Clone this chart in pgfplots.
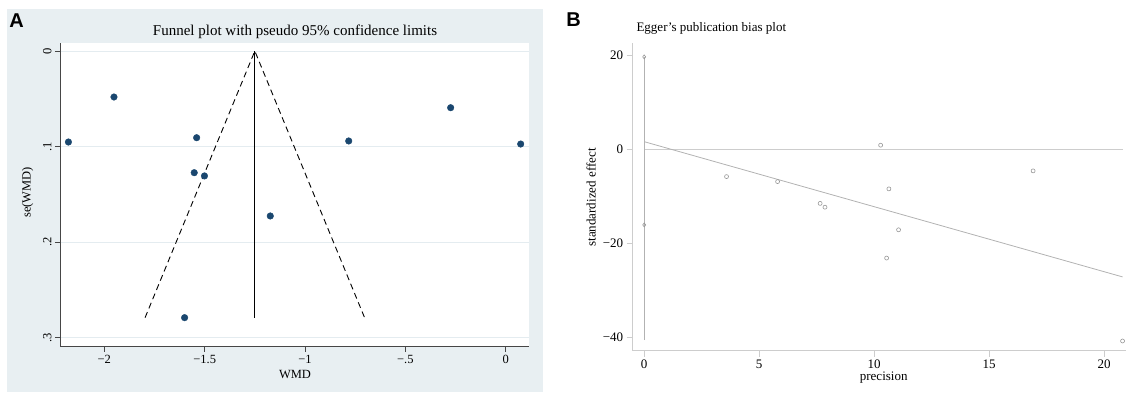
\documentclass[border=0pt]{standalone}
\usepackage{pgfplots}
\pgfplotsset{compat=1.18}
\usepackage{pgfplotstable}
\usepackage{fontspec}
\setmainfont{Liberation Serif}
\newfontfamily\sansb{Liberation Sans}
\definecolor{bgA}{RGB}{232,239,242}
\definecolor{gridA}{RGB}{228,236,240}
\definecolor{navyA}{RGB}{26,71,111}
\definecolor{axA}{RGB}{70,70,70}
\definecolor{axB}{RGB}{205,205,205}
\definecolor{lnB}{RGB}{178,178,178}
\definecolor{mkB}{RGB}{150,150,150}

\pgfplotstableread{
wmd se
-2.179 0.0952
-1.952 0.0481
-1.540 0.0907
-1.552 0.1273
-1.501 0.1307
-0.782 0.0941
-1.173 0.1726
-1.600 0.2790
-0.274 0.0593
0.075 0.0973
}\funnel

\pgfplotstableread{
prec std
3.58 -5.81
5.80 -6.87
7.65 -11.5
7.86 -12.3
10.28 0.85
10.64 -8.42
11.06 -17.1
10.54 -23.1
16.91 -4.6
20.80 -40.7
}\egger

\begin{document}
\begin{tikzpicture}[x=1pt,y=1pt]
\useasboundingbox (0,0) rectangle (1127,396);
\fill[bgA] (6.7,4) rectangle (543,386.7);

\begin{axis}[at={(60pt,49.3pt)}, anchor=south west, scale only axis,
  width=469.3pt, height=303.4pt,
  xmin=-2.221, xmax=0.118, ymin=-0.0081, ymax=0.3094, y dir=reverse,
  axis background/.style={fill=white},
  axis x line*=bottom, axis y line*=left,
  axis line style={axA, line width=0.8pt, -},
  tick align=outside, major tick length=5pt,
  tick style={axA, line width=0.8pt},
  xtick={-2,-1.5,-1,-0.5,0}, xticklabels={−2,−1.5,−1,−.5,0},
  ytick={0,0.1,0.2,0.3}, yticklabels={0,.1,.2,.3},
  yticklabel style={rotate=90, anchor=south},
  ticklabel style={font=\rmfamily\fontsize{12.5}{14}\selectfont},
  ymajorgrids, grid style={gridA, line width=0.9pt},
  clip=false]
\addplot[black, line width=0.9pt, dash pattern=on 6pt off 4pt]
  coordinates {(-1.797,0.279) (-1.25,0) (-0.703,0.279)};
\addplot[black, line width=0.9pt] coordinates {(-1.25,0) (-1.25,0.279)};
\addplot[only marks, mark=*, mark size=3.3pt, navyA, mark options={fill=navyA, draw=navyA}]
  table[x=wmd, y=se] {\funnel};
\end{axis}

\begin{axis}[at={(632.7pt,45.3pt)}, anchor=south west, scale only axis,
  width=493.3pt, height=307.4pt,
  xmin=-0.5, xmax=20.95, ymin=-42.76, ymax=22.48,
  axis x line*=bottom, axis y line*=left,
  axis line style={axB, line width=0.9pt, -},
  tick align=outside, major tick length=6pt,
  tick style={axB, line width=0.9pt},
  xtick={0,5,10,15,20}, xticklabels={0,5,10,15,20},
  ytick={-40,-20,0,20}, yticklabels={−40,−20,0,20},
  ticklabel style={font=\rmfamily\fontsize{13}{15}\selectfont},
  clip=false]
\addplot[axB, line width=0.9pt] coordinates {(0,0) (20.8,0)};
\addplot[lnB, line width=0.8pt] coordinates {(0,-40.5) (0,19.6)};
\addplot[only marks, mark=diamond, mark size=2pt, mkB, line width=0.6pt] coordinates {(0,19.6) (0,-16.06)};
\addplot[lnB, line width=0.8pt] coordinates {(0,1.6) (20.8,-27.1)};
\addplot[only marks, mark=o, mark size=2pt, mkB, line width=0.6pt]
  table[x=prec, y=std] {\egger};
\end{axis}

\node[font=\sansb\bfseries\fontsize{20}{22}\selectfont] at (16.7,375.2) {A};
\node[font=\sansb\bfseries\fontsize{20}{22}\selectfont] at (573.7,376.3) {B};
\node[anchor=base, font=\fontsize{15}{17}\selectfont] at (295,360) {Funnel plot with pseudo 95\% confidence limits};
\node[font=\fontsize{12.5}{14}\selectfont] at (295,21) {WMD};
\node[rotate=90, font=\fontsize{12.5}{14}\selectfont] at (27.5,203.5) {se(WMD)};
\node[anchor=base west, font=\fontsize{13}{15}\selectfont] at (633,364.5) {Egger’s publication bias plot};
\node[font=\fontsize{13}{15}\selectfont] at (883.7,18) {precision};
\node[rotate=90, font=\fontsize{13}{15}\selectfont] at (591,198.5) {standardized effect};
\end{tikzpicture}
\end{document}
